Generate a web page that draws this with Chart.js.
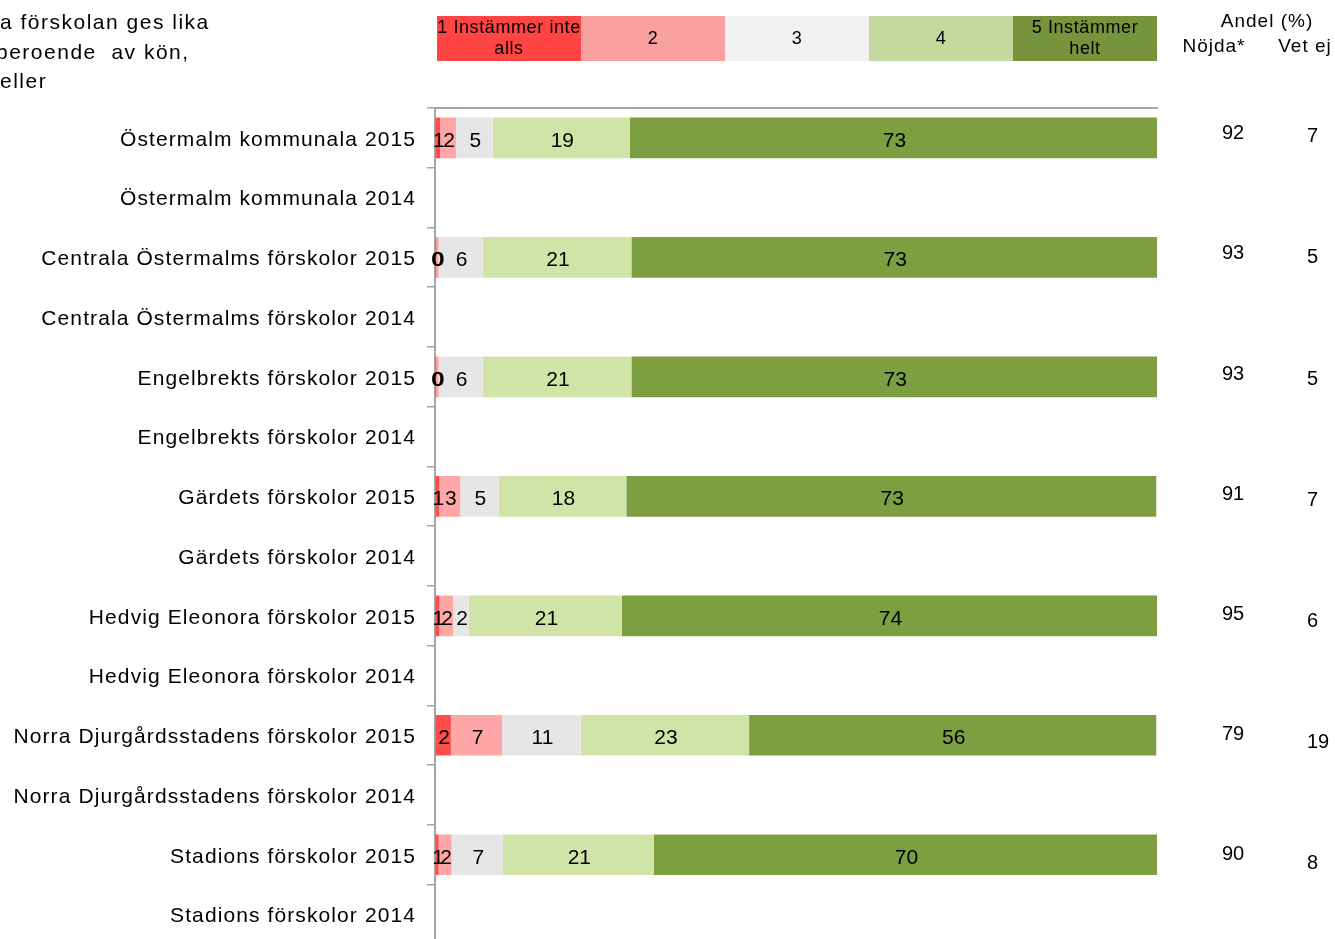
<!DOCTYPE html>
<html lang="sv">

<head>
    <meta charset="utf-8" />
    <title>Förskolor Östermalm</title>
    <style>
        html, body { margin: 0; padding: 0; background: #fff; overflow: hidden; }
        canvas { display: block; }
    </style>
    <script src="https://cdn.jsdelivr.net/npm/chart.js"></script>
</head>

<body>
    <canvas id="chart" width="1335" height="968"></canvas>

    <script>
        // Data (2014-raderna saknar värden)
        const categories = [
            'Östermalm kommunala 2015', 'Östermalm kommunala 2014',
            'Centrala Östermalms förskolor 2015', 'Centrala Östermalms förskolor 2014',
            'Engelbrekts förskolor 2015', 'Engelbrekts förskolor 2014',
            'Gärdets förskolor 2015', 'Gärdets förskolor 2014',
            'Hedvig Eleonora förskolor 2015', 'Hedvig Eleonora förskolor 2014',
            'Norra Djurgårdsstadens förskolor 2015', 'Norra Djurgårdsstadens förskolor 2014',
            'Stadions förskolor 2015', 'Stadions förskolor 2014'
        ];
        const level1 = [0.7, null, 0.2, null, 0.2, null, 0.6, null, 0.6, null, 2.2, null, 0.5, null];
        const level2 = [2.2, null, 0.3, null, 0.3, null, 2.9, null, 1.9, null, 7.1, null, 1.8, null];
        const level3 = [5.1, null, 6.1, null, 6.1, null, 5.3, null, 2.2, null, 10.9, null, 7.1, null];
        const level4 = [19.0, null, 20.6, null, 20.6, null, 17.7, null, 21.2, null, 23.3, null, 20.9, null];
        const level5 = [73.0, null, 72.8, null, 72.8, null, 73.4, null, 74.1, null, 56.4, null, 69.7, null];
        const nojda = [92, null, 93, null, 93, null, 91, null, 95, null, 79, null, 90, null];
        const vetEj = [7, null, 5, null, 5, null, 7, null, 6, null, 19, null, 8, null];

        const legendLabels = [['1 Instämmer inte', 'alls'], ['2'], ['3'], ['4'], ['5 Instämmer', 'helt']];
        const legendColors = ['#FF4444', '#F9A1A1', '#F2F2F2', '#C5D89D', '#77933C'];
        const barColors = ['#FF4D4D', '#FFA7A7', '#E6E6E6', '#D1E4A7', '#7E9E42'];
        const titleLines = ['a förskolan ges lika', 'beroende  av kön,', 'eller'];

        const FONT = '"Liberation Sans", Arial, sans-serif';

        // glesare text som i originalet (för axeletiketterna)
        const spacing = {
            id: 'spacing',
            beforeDraw(chart) { chart.ctx.letterSpacing = '1.1px'; },
            beforeDatasetsDraw(chart) { chart.ctx.letterSpacing = '0px'; }
        };

        // siffror mitt i varje stapelsegment
        const segmentLabels = {
            id: 'segmentLabels',
            afterDatasetsDraw(chart) {
                const ctx = chart.ctx;
                ctx.save();
                ctx.font = '21px ' + FONT;
                ctx.fillStyle = '#000';
                ctx.textAlign = 'center';
                ctx.textBaseline = 'middle';
                chart.data.datasets.forEach((ds, di) => {
                    const meta = chart.getDatasetMeta(di);
                    meta.data.forEach((bar, i) => {
                        const v = ds.data[i];
                        if (v === null || v === undefined) return;
                        ctx.fillText(String(Math.round(v)), (bar.x + bar.base) / 2 + 1, bar.y + 3);
                    });
                });
                ctx.restore();
            }
        };

        // legend-rutor, titel och kolumnerna till höger
        const extras = {
            id: 'extras',
            afterDraw(chart) {
                const ctx = chart.ctx;
                const area = chart.chartArea;
                const yScale = chart.scales.y;
                ctx.save();

                // legend
                const lx = area.left + 2;
                const lw = (area.right - lx) / legendLabels.length;
                ctx.textBaseline = 'middle';
                legendLabels.forEach((lines, i) => {
                    ctx.fillStyle = legendColors[i];
                    ctx.fillRect(lx + i * lw, 16, lw, 45);
                    ctx.fillStyle = '#000';
                    ctx.font = '18px ' + FONT;
                    ctx.letterSpacing = '0.6px';
                    ctx.textAlign = 'center';
                    const cx = lx + i * lw + lw / 2;
                    if (lines.length === 1) {
                        ctx.fillText(lines[0], cx, 39);
                    } else {
                        ctx.fillText(lines[0], cx, 28);
                        ctx.fillText(lines[1], cx, 49);
                    }
                });

                // kolumnrubriker
                ctx.font = '19px ' + FONT;
                ctx.letterSpacing = '1px';
                ctx.fillStyle = '#000';
                ctx.textAlign = 'center';
                ctx.fillText('Andel (%)', 1267, 22);
                ctx.fillText('Nöjda*', 1214, 47);
                ctx.fillText('Vet ej', 1305, 47);

                // titel (avskuren i vänsterkanten)
                ctx.font = '21px ' + FONT;
                ctx.letterSpacing = '1.5px';
                ctx.textAlign = 'left';
                ctx.fillText(titleLines[0], 0, 23);
                ctx.fillText(titleLines[1], -4, 53);
                ctx.fillText(titleLines[2], 0, 82);

                // Nöjda / Vet ej
                ctx.font = '20px ' + FONT;
                ctx.letterSpacing = '0px';
                nojda.forEach((v, i) => {
                    if (v === null) return;
                    const y = yScale.getPixelForValue(i);
                    ctx.textAlign = 'center';
                    ctx.fillText(String(v), 1233, y - 4 + i * 0.3);
                    ctx.textAlign = 'left';
                    ctx.fillText(String(vetEj[i]), 1307, y - 1 + i * 0.8);
                });

                ctx.restore();
            }
        };

        const names = ['1', '2', '3', '4', '5'];
        const levels = [level1, level2, level3, level4, level5];

        new Chart(document.getElementById('chart'), {
            type: 'bar',
            data: {
                labels: categories,
                datasets: levels.map((d, i) => ({
                    label: names[i],
                    data: d,
                    backgroundColor: barColors[i],
                    borderWidth: 0,
                    barPercentage: 0.68,
                    categoryPercentage: 1
                }))
            },
            options: {
                indexAxis: 'y',
                responsive: false,
                animation: false,
                layout: { padding: { top: 108, right: 178, left: 0, bottom: 0 } },
                plugins: {
                    legend: { display: false },
                    tooltip: { enabled: false }
                },
                scales: {
                    x: {
                        position: 'top',
                        stacked: true,
                        min: 0,
                        max: 100,
                        ticks: { display: false },
                        grid: { drawOnChartArea: false, drawTicks: false },
                        border: { color: '#A6A6A6', width: 2 },
                        afterFit: (scale) => { scale.height = 0; }
                    },
                    y: {
                        stacked: true,
                        ticks: {
                            color: '#000',
                            font: { family: FONT, size: 21 },
                            padding: 11,
                            labelOffset: 2
                        },
                        grid: { drawOnChartArea: false, offset: true, tickLength: 8, color: '#A6A6A6', lineWidth: 1.5 },
                        border: { color: '#A6A6A6', width: 2 },
                        afterFit: (scale) => { scale.width = 435; }
                    }
                }
            },
            plugins: [spacing, segmentLabels, extras]
        });
    </script>
</body>

</html>
